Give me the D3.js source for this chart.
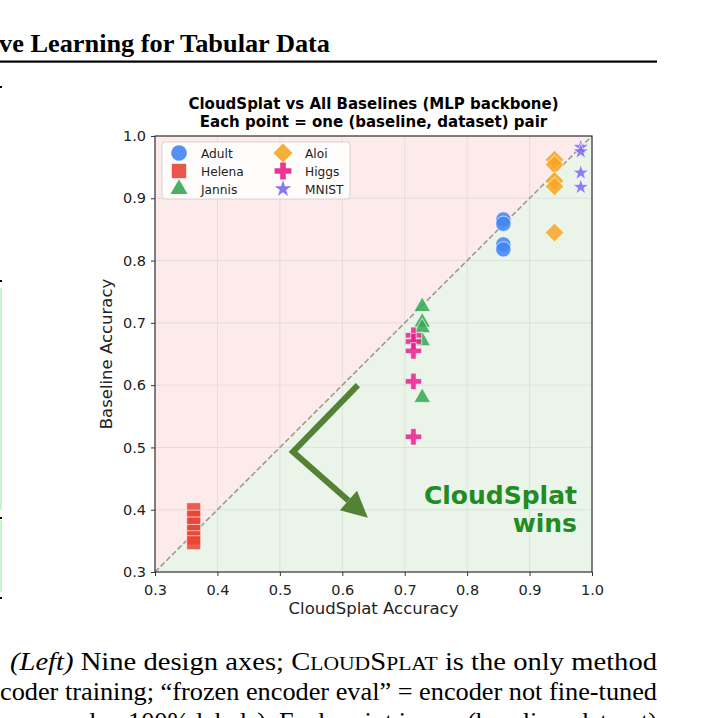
<!DOCTYPE html>
<html><head><meta charset="utf-8">
<script src="https://cdn.jsdelivr.net/npm/d3@7"></script>
<style>
body{margin:0;background:#fff;}
svg{display:block;}
</style></head>
<body>
<svg id="c" width="702" height="718"></svg>
<script>
// ---- data ----
const datasets = ["Adult","Helena","Jannis","Aloi","Higgs","MNIST"];
const cloudsplatAcc = [0.858, 0.362, 0.728, 0.940, 0.714, 0.982];
const adultBaselines  = [0.866, 0.859, 0.826, 0.818];
const helenaBaselines = [0.400, 0.388, 0.377, 0.365, 0.355, 0.347];
const jannisBaselines = [0.726, 0.701, 0.692, 0.671, 0.580];
const aloiBaselines   = [0.962, 0.954, 0.928, 0.919, 0.845];
const higgsBaselines  = [0.680, 0.670, 0.655, 0.606, 0.517];
const mnistBaselines  = [0.982, 0.975, 0.941, 0.918];
const baselineLists = [adultBaselines, helenaBaselines, jannisBaselines, aloiBaselines, higgsBaselines, mnistBaselines];
const colors = ["#4285f4","#ea4335","#34a853","#f5a623","#e91e8c","#7b68ee"];
const xTicks = [0.3,0.4,0.5,0.6,0.7,0.8,0.9,1.0];
const yTicks = [0.3,0.4,0.5,0.6,0.7,0.8,0.9,1.0];
const arrowPath = [[0.625,0.600],[0.521,0.493],[0.641,0.387]];

const svg = d3.select("#c");
const x = d3.scaleLinear().domain([0.3,1.0]).range([155,592]);
const y = d3.scaleLinear().domain([0.3,1.0]).range([572,136]);
const FONT = "'DejaVu Sans', sans-serif";
const SERIF = "'Liberation Serif', 'Times New Roman', serif";

// ---- page context ----
svg.append("text").attr("x",-1).attr("y",52).attr("font-family",SERIF).attr("font-weight","bold")
  .attr("font-size",26).attr("fill","#000").attr("textLength",331).attr("lengthAdjust","spacingAndGlyphs")
  .text("ve Learning for Tabular Data");
svg.append("rect").attr("x",0).attr("y",60.5).attr("width",657).attr("height",2.2).attr("fill","#000");
svg.append("rect").attr("x",0).attr("y",86).attr("width",2).attr("height",2).attr("fill","#000");
// left edge fragments
svg.append("rect").attr("x",0).attr("y",288).attr("width",2).attr("height",222).attr("fill","#c8f5c8");
svg.append("rect").attr("x",0).attr("y",520).attr("width",2).attr("height",72).attr("fill","#c8f5c8");
[280,517,597].forEach(v=>svg.append("rect").attr("x",0).attr("y",v).attr("width",2).attr("height",2).attr("fill","#000"));

const cap1 = svg.append("text").attr("x",10).attr("y",670).attr("font-family",SERIF).attr("font-size",24.5).attr("fill","#000")
  .attr("textLength",647).attr("lengthAdjust","spacingAndGlyphs");
cap1.append("tspan").attr("font-style","italic").text("(Left)");
cap1.append("tspan").text(" Nine design axes; C");
cap1.append("tspan").attr("font-size",18.5).text("LOUD");
cap1.append("tspan").text("S");
cap1.append("tspan").attr("font-size",18.5).text("PLAT");
cap1.append("tspan").text(" is the only method");
svg.append("text").attr("x",0).attr("y",700).attr("font-family",SERIF).attr("font-size",24.5).attr("fill","#000")
  .attr("textLength",657).attr("lengthAdjust","spacingAndGlyphs")
  .text("coder training; \u201cfrozen encoder eval\u201d = encoder not fine-tuned");
svg.append("text").attr("x",0).attr("y",730).attr("font-family",SERIF).attr("font-size",24.5).attr("fill","#000")
  .attr("textLength",657).attr("lengthAdjust","spacingAndGlyphs")
  .text("on encoder, 100% labels). Each point is one (baseline, dataset)");

// ---- chart title ----
const tt = svg.append("text").attr("x",373.5).attr("font-family",FONT).attr("font-weight","bold")
  .attr("font-size",15).attr("text-anchor","middle").attr("fill","#000");
tt.append("tspan").attr("x",373.5).attr("y",109).text("CloudSplat vs All Baselines (MLP backbone)");
tt.append("tspan").attr("x",373.5).attr("y",127).text("Each point = one (baseline, dataset) pair");

// ---- regions ----
svg.append("path").attr("d", d3.line()([[x(0.3),y(0.3)],[x(0.3),y(1)],[x(1),y(1)]])+"Z").attr("fill","#fdeaea");
svg.append("path").attr("d", d3.line()([[x(0.3),y(0.3)],[x(1),y(0.3)],[x(1),y(1)]])+"Z").attr("fill","#eaf4e9");

// grid
const g = svg.append("g");
xTicks.forEach(t=>g.append("line").attr("x1",x(t)).attr("x2",x(t)).attr("y1",y(0.3)).attr("y2",y(1.0))
  .attr("stroke","#b0b0b0").attr("stroke-opacity",0.3).attr("stroke-width",0.8));
yTicks.forEach(t=>g.append("line").attr("y1",y(t)).attr("y2",y(t)).attr("x1",x(0.3)).attr("x2",x(1.0))
  .attr("stroke","#b0b0b0").attr("stroke-opacity",0.3).attr("stroke-width",0.8));

// diagonal
svg.append("line").attr("x1",x(0.3)).attr("y1",y(0.3)).attr("x2",x(1.0)).attr("y2",y(1.0))
  .attr("stroke","#888").attr("stroke-width",1.5).attr("stroke-dasharray","5.5,2.5").attr("opacity",0.85);

// ---- markers ----
function markerPath(i, s){
  switch(i){
    case 0: return d3.symbol(d3.symbolCircle, 185*s)();
    case 1: return d3.symbol(d3.symbolSquare, 196*s)();
    case 2: return d3.symbol(d3.symbolTriangle, 120*s)();
    case 3: return d3.symbol(d3.symbolSquare, 175*s)();
    case 4: return d3.symbol(d3.symbolCross, 150*s)();
    case 5: return d3.symbol(d3.symbolStar, 80*s)();
  }
}
function rot(i){ return i===3 ? " rotate(45)" : ""; }

const pts = svg.append("g");
datasets.forEach((d,i)=>{
  baselineLists[i].forEach(v=>{
    pts.append("path").attr("d",markerPath(i,1))
      .attr("transform",`translate(${x(cloudsplatAcc[i])},${y(v)})`+rot(i))
      .attr("fill",colors[i]).attr("fill-opacity",0.85)
      .attr("stroke","#fff").attr("stroke-width",0.8).attr("stroke-opacity",0.8);
  });
});

// ---- arrow ----
const ac = "#548235";
const ap = arrowPath.map(p=>[x(p[0]),y(p[1])]);
const end = ap[2], prev = ap[1];
const ang = Math.atan2(end[1]-prev[1], end[0]-prev[0]);
const headLen = 26, headW = 13;
const base = [end[0]-headLen*Math.cos(ang), end[1]-headLen*Math.sin(ang)];
svg.append("path").attr("d", d3.line()([ap[0], ap[1], base]))
  .attr("fill","none").attr("stroke",ac).attr("stroke-width",6).attr("stroke-linejoin","miter");
const nx = -Math.sin(ang), ny = Math.cos(ang);
svg.append("path").attr("d", d3.line()([
  end, [base[0]+nx*headW, base[1]+ny*headW], [base[0]-nx*headW, base[1]-ny*headW]
])+"Z").attr("fill",ac);

// ---- wins text ----
const wt = svg.append("text").attr("font-family",FONT).attr("font-weight","bold").attr("font-size",25)
  .attr("fill","#228b22").attr("text-anchor","end");
wt.append("tspan").attr("x",577).attr("y",504).text("CloudSplat");
wt.append("tspan").attr("x",577).attr("y",532).text("wins");

// ---- axes ----
svg.append("rect").attr("x",x(0.3)).attr("y",y(1.0)).attr("width",x(1)-x(0.3)).attr("height",y(0.3)-y(1))
  .attr("fill","none").attr("stroke","#333").attr("stroke-width",1.2);
const xa = svg.append("g").attr("transform",`translate(0,${y(0.3)})`)
  .call(d3.axisBottom(x).tickValues(xTicks).tickFormat(d3.format(".1f")).tickSize(4).tickPadding(9));
const ya = svg.append("g").attr("transform",`translate(${x(0.3)},0)`)
  .call(d3.axisLeft(y).tickValues(yTicks).tickFormat(d3.format(".1f")).tickSize(4).tickPadding(5));
[xa,ya].forEach(a=>{
  a.select(".domain").remove();
  a.selectAll("text").attr("font-family",FONT).attr("font-size",14.5).attr("fill","#222");
  a.selectAll("line").attr("stroke","#333");
});
svg.append("text").attr("x",373.5).attr("y",614).attr("text-anchor","middle").attr("font-family",FONT)
  .attr("font-size",16.5).attr("fill","#222").text("CloudSplat Accuracy");
svg.append("text").attr("transform","translate(112,354) rotate(-90)").attr("text-anchor","middle").attr("font-family",FONT)
  .attr("font-size",16.5).attr("fill","#222").text("Baseline Accuracy");

// ---- legend ----
const lg = svg.append("g");
lg.append("rect").attr("x",162).attr("y",142).attr("width",188).attr("height",57).attr("rx",3)
  .attr("fill","#fff").attr("fill-opacity",0.85).attr("stroke","#ccc").attr("stroke-width",0.8);
datasets.forEach((d,i)=>{
  const col = Math.floor(i/3), row = i%3;
  const mx = 179 + col*104, my = 153 + row*18;
  lg.append("path").attr("d", markerPath(i,1.05)).attr("transform",`translate(${mx},${my})`+rot(i))
    .attr("fill",colors[i]).attr("fill-opacity",0.9);
  lg.append("text").attr("x",mx+22).attr("y",my+4.5).attr("font-family",FONT).attr("font-size",12.2)
    .attr("fill","#222").text(d);
});
</script>
</body></html>
